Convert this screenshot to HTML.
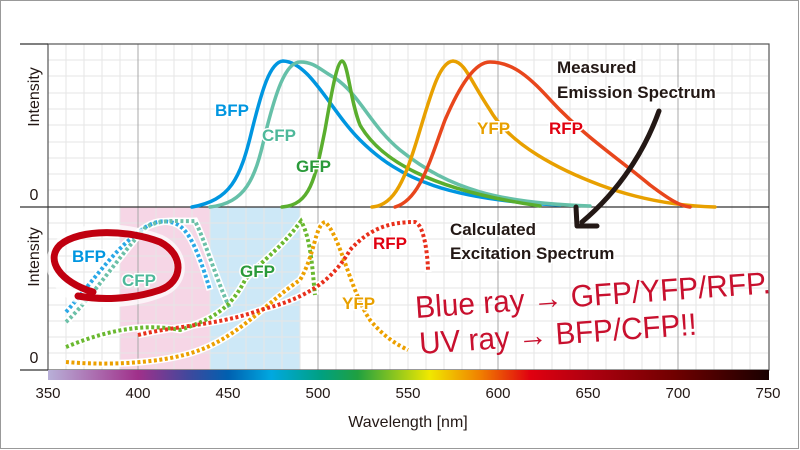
<!DOCTYPE html>
<html><head><style>
html,body{margin:0;padding:0;background:#fff}
svg{display:block}
text{font-family:"Liberation Sans",sans-serif}
.h{paint-order:stroke;stroke:#fff;stroke-width:3px;stroke-linejoin:round}
</style></head><body>
<svg width="800" height="450" viewBox="0 0 800 450" xmlns="http://www.w3.org/2000/svg">
<defs>
<linearGradient id="spec" x1="48" x2="768" gradientUnits="userSpaceOnUse">
<stop offset="0" stop-color="#b8b0d8"/>
<stop offset="0.125" stop-color="#a0308a"/>
<stop offset="0.2" stop-color="#3a4a9e"/>
<stop offset="0.25" stop-color="#0060b0"/>
<stop offset="0.31" stop-color="#00a8e0"/>
<stop offset="0.38" stop-color="#00a080"/>
<stop offset="0.43" stop-color="#20a040"/>
<stop offset="0.53" stop-color="#f0e800"/>
<stop offset="0.6" stop-color="#f08000"/>
<stop offset="0.67" stop-color="#e00010"/>
<stop offset="0.75" stop-color="#b00010"/>
<stop offset="0.87" stop-color="#700000"/>
<stop offset="1" stop-color="#1a0000"/>
</linearGradient>
</defs>
<rect x="0.5" y="0.5" width="798" height="448" fill="#fff" stroke="#999"/>
<rect x="120" y="207" width="90" height="163" fill="#f6d6e6"/>
<rect x="210" y="207" width="90" height="163" fill="#cde8f7"/>
<g stroke="#e6e6e6" stroke-width="1">
<path d="M66 44V370M84 44V370M102 44V370M120 44V370M156 44V370M174 44V370M192 44V370M210 44V370M228 44V370M246 44V370M264 44V370M282 44V370M300 44V370M336 44V370M354 44V370M372 44V370M390 44V370M408 44V370M426 44V370M444 44V370M462 44V370M480 44V370M516 44V370M534 44V370M552 44V370M570 44V370M588 44V370M606 44V370M624 44V370M642 44V370M660 44V370M696 44V370M714 44V370M732 44V370M750 44V370"/>
<path d="M48 60H768M48 76H768M48 93H768M48 109H768M48 125H768M48 142H768M48 158H768M48 174H768M48 190H768M48 223H768M48 239H768M48 256H768M48 272H768M48 288H768M48 305H768M48 321H768M48 337H768M48 353H768"/>
</g>
<g stroke="#a8a8a8" stroke-width="1"><path d="M138 44V370M318 44V370M498 44V370M678 44V370"/></g>
<rect x="48" y="44" width="721" height="326" fill="none" stroke="#555" stroke-width="1.2"/>
<path d="M20 44H48M20 207H769M20 370H48" stroke="#333" stroke-width="1.2"/>
<rect x="48" y="370" width="721" height="10" fill="url(#spec)"/>
<g fill="none" stroke-width="3.5" stroke-linecap="round">
<path d="M192 207C230 200 240 180 252 130C262 90 270 62 283 61C310 62 330 110 360 140C400 180 450 200 560 205" stroke="#0096e0"/>
<path d="M210 207C245 203 255 180 265 135C275 95 285 62 300 62C315 62 320 70 335 78C360 95 370 125 400 150C450 190 500 203 590 206" stroke="#66c0a8"/>
<path d="M282 207C310 205 315 180 325 130C332 90 337 62 342 61C348 62 350 100 360 125C380 160 430 190 540 206" stroke="#5aae2e"/>
<path d="M372 207C395 205 405 180 420 130C432 90 440 62 453 61C465 62 470 80 490 110C510 145 560 170 600 185C640 200 680 206 715 207" stroke="#e8a000"/>
<path d="M395 207C420 200 430 160 445 120C460 85 475 62 490 62C520 62 540 90 560 110C590 140 620 160 650 185C670 200 680 206 690 207" stroke="#e8461c"/>
</g>
<g font-weight="bold" font-size="17">
<text class="h" x="215" y="116" fill="#0096e0">BFP</text>
<text class="h" x="262" y="141" fill="#4eb89a">CFP</text>
<text class="h" x="296" y="172" fill="#2a9a3a">GFP</text>
<text class="h" x="477" y="134" fill="#e8a000">YFP</text>
<text class="h" x="549" y="134" fill="#e00010">RFP</text>
</g>
<g fill="none" stroke-linecap="butt">
<g stroke="#fff" stroke-width="7">
<path d="M66 312C90 285 110 255 135 235C150 222 160 220 170 222C185 224 195 240 210 290"/>
<path d="M66 322C90 300 120 255 145 228C160 218 180 222 195 221C205 240 220 290 230 308"/>
<path d="M66 347C100 333 140 322 180 330C210 320 230 310 245 280C260 262 280 250 301 221C312 240 313 280 315 295"/>
<path d="M66 362C100 365 160 365 200 350C240 335 270 300 300 280C315 255 315 225 325 222C340 235 350 290 370 320C385 338 398 345 408 350"/>
<path d="M138 335C180 325 220 325 260 310C300 300 330 285 350 250C370 228 390 222 415 222C425 225 428 260 428 272"/>
</g>
<g stroke-width="4" stroke-dasharray="3 2.5">
<path d="M66 312C90 285 110 255 135 235C150 222 160 220 170 222C185 224 195 240 210 290" stroke="#2aa8e6"/>
<path d="M66 322C90 300 120 255 145 228C160 218 180 222 195 221C205 240 220 290 230 308" stroke="#6cc0a8"/>
<path d="M66 347C100 333 140 322 180 330C210 320 230 310 245 280C260 262 280 250 301 221C312 240 313 280 315 295" stroke="#6ab830"/>
<path d="M66 362C100 365 160 365 200 350C240 335 270 300 300 280C315 255 315 225 325 222C340 235 350 290 370 320C385 338 398 345 408 350" stroke="#eca000"/>
<path d="M138 335C180 325 220 325 260 310C300 300 330 285 350 250C370 228 390 222 415 222C425 225 428 260 428 272" stroke="#e8301c"/>
</g>
</g>
<path d="M78 298C60 290 45 270 55 250C70 225 120 225 160 240C185 252 185 280 165 290C140 302 100 305 78 298" fill="none" stroke="#fff" stroke-width="11" opacity="0.7"/>
<path d="M93 292C60 282 45 260 60 245C80 228 130 230 160 242C185 255 183 282 160 290C130 300 100 300 78 296" fill="none" stroke="#c00010" stroke-width="7" stroke-linecap="round"/>
<g font-weight="bold" font-size="17">
<text class="h" x="72" y="262" fill="#0096e0">BFP</text>
<text class="h" x="122" y="286" fill="#4eb89a">CFP</text>
<text class="h" x="240" y="277" fill="#2a9a3a">GFP</text>
<text class="h" x="342" y="309" fill="#e8a000">YFP</text>
<text class="h" x="373" y="249" fill="#e00010">RFP</text>
</g>
<g font-weight="bold" font-size="17" fill="#231815">
<text class="h" x="557" y="73">Measured</text>
<text class="h" x="557" y="98">Emission Spectrum</text>
<text class="h" x="450" y="235">Calculated</text>
<text class="h" x="450" y="259">Excitation Spectrum</text>
</g>
<path d="M659 111C645 150 620 190 582 222" fill="none" stroke="#231815" stroke-width="5" stroke-linecap="round"/>
<path d="M576 207L577 226L597 226" fill="none" stroke="#231815" stroke-width="5" stroke-linecap="round" stroke-linejoin="round"/>
<g fill="#c8102e" font-size="31">
<text x="416" y="318" transform="rotate(-4 416 318)" style="font-family:'Liberation Sans Narrow','Liberation Sans',sans-serif" textLength="356" lengthAdjust="spacingAndGlyphs">Blue ray → GFP/YFP/RFP.</text>
<text x="420" y="354" transform="rotate(-4 420 354)" style="font-family:'Liberation Sans Narrow','Liberation Sans',sans-serif" textLength="278" lengthAdjust="spacingAndGlyphs">UV ray → BFP/CFP!!</text>
</g>
<g fill="#231815" font-size="16">
<text transform="translate(39 97) rotate(-90)" text-anchor="middle">Intensity</text>
<text transform="translate(39 257) rotate(-90)" text-anchor="middle">Intensity</text>
<text x="34" y="200" text-anchor="middle">0</text>
<text x="34" y="363" text-anchor="middle">0</text>
</g>
<g fill="#231815" font-size="15" text-anchor="middle">
<text x="48" y="398">350</text><text x="138" y="398">400</text><text x="228" y="398">450</text>
<text x="318" y="398">500</text><text x="408" y="398">550</text><text x="498" y="398">600</text>
<text x="588" y="398">650</text><text x="678" y="398">700</text><text x="768" y="398">750</text>
<text x="408" y="427" font-size="16">Wavelength [nm]</text>
</g>
</svg>
</body></html>
